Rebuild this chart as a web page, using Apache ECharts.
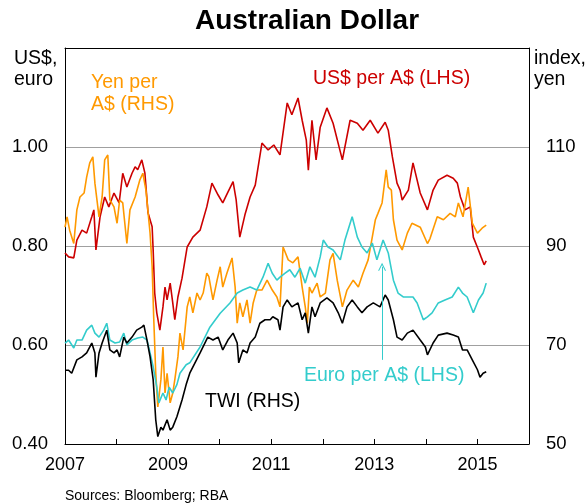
<!DOCTYPE html>
<html>
<head>
<meta charset="utf-8">
<script src="https://cdn.jsdelivr.net/npm/echarts@6/dist/echarts.min.js"></script>
<style>
html,body{margin:0;padding:0;background:#fff;}
#chart{width:585px;height:503px;}
</style>
</head>
<body>
<div id="chart"></div>
<script>
// ---- Data (decimal years) ----
const usdT = [2007.00,2007.07,2007.17,2007.23,2007.33,2007.42,2007.52,2007.56,2007.60,2007.68,2007.77,2007.85,2007.95,2008.05,2008.12,2008.20,2008.30,2008.36,2008.41,2008.49,2008.51,2008.55,2008.61,2008.69,2008.71,2008.74,2008.78,2008.84,2008.90,2008.94,2008.98,2009.04,2009.09,2009.13,2009.19,2009.27,2009.37,2009.48,2009.62,2009.75,2009.85,2009.97,2010.06,2010.16,2010.26,2010.32,2010.39,2010.49,2010.59,2010.69,2010.82,2010.94,2011.05,2011.17,2011.25,2011.31,2011.40,2011.52,2011.60,2011.68,2011.72,2011.79,2011.87,2011.95,2012.08,2012.20,2012.38,2012.53,2012.67,2012.78,2012.92,2013.07,2013.21,2013.27,2013.35,2013.44,2013.50,2013.54,2013.66,2013.75,2013.89,2014.03,2014.14,2014.24,2014.41,2014.53,2014.61,2014.67,2014.76,2014.86,2014.92,2015.02,2015.07,2015.13,2015.17];
const usdV = [0.786,0.778,0.776,0.812,0.832,0.826,0.859,0.873,0.792,0.859,0.899,0.879,0.907,0.887,0.947,0.919,0.947,0.960,0.954,0.974,0.978,0.947,0.867,0.839,0.792,0.705,0.665,0.630,0.677,0.717,0.691,0.725,0.685,0.651,0.697,0.735,0.798,0.818,0.832,0.879,0.927,0.903,0.887,0.909,0.930,0.893,0.818,0.863,0.899,0.923,1.008,0.994,1.004,0.984,1.044,1.089,1.065,1.099,1.054,1.014,0.953,1.054,0.974,1.040,1.079,1.048,0.974,1.054,1.048,1.034,1.054,1.028,1.050,1.034,0.980,0.927,0.913,0.893,0.913,0.968,0.907,0.873,0.913,0.933,0.943,0.937,0.927,0.899,0.873,0.879,0.818,0.792,0.778,0.762,0.770];

const jpyT = [2007.00,2007.04,2007.09,2007.17,2007.23,2007.29,2007.37,2007.42,2007.48,2007.54,2007.58,2007.66,2007.72,2007.77,2007.83,2007.87,2007.95,2008.01,2008.06,2008.12,2008.20,2008.26,2008.36,2008.45,2008.51,2008.57,2008.65,2008.69,2008.72,2008.76,2008.80,2008.86,2008.90,2008.94,2008.98,2009.04,2009.09,2009.13,2009.19,2009.23,2009.29,2009.37,2009.42,2009.48,2009.56,2009.62,2009.68,2009.75,2009.79,2009.87,2009.95,2010.01,2010.06,2010.14,2010.24,2010.30,2010.34,2010.39,2010.45,2010.53,2010.59,2010.65,2010.72,2010.82,2010.92,2011.02,2011.11,2011.17,2011.23,2011.33,2011.42,2011.52,2011.60,2011.66,2011.70,2011.74,2011.79,2011.89,2011.95,2012.05,2012.14,2012.20,2012.28,2012.38,2012.47,2012.59,2012.69,2012.78,2012.88,2012.96,2013.02,2013.07,2013.15,2013.23,2013.27,2013.33,2013.37,2013.44,2013.54,2013.64,2013.73,2013.89,2014.03,2014.08,2014.22,2014.34,2014.47,2014.57,2014.63,2014.72,2014.82,2014.90,2015.00,2015.09,2015.17];
const jpyV = [93.8,95.9,93.2,90.5,97.3,99.9,100.7,103.9,106.8,108.0,102.7,95.9,99.9,107.4,108.4,99.3,97.9,94.6,99.3,98.7,90.5,97.3,99.9,103.3,104.7,101.3,92.6,85.8,75.7,64.3,57.5,63.0,69.6,60.3,64.3,58.3,60.3,63.0,67.6,72.4,69.0,77.7,79.7,76.5,80.5,79.1,80.5,84.5,83.8,79.1,83.1,85.8,81.7,84.5,87.6,81.7,74.4,78.5,75.7,79.1,74.4,78.5,81.1,81.1,83.1,81.1,79.7,77.7,89.8,87.2,86.6,87.8,81.7,77.7,74.4,81.7,80.5,82.5,79.7,80.5,87.2,88.5,83.1,77.7,81.1,83.1,81.7,84.5,87.2,91.8,95.3,96.6,98.7,105.4,101.9,101.3,95.3,91.2,89.2,92.6,94.6,93.8,90.5,91.5,95.9,95.3,96.6,95.9,98.7,95.9,101.9,94.6,92.6,93.6,94.2];

const eurT = [2007.00,2007.07,2007.17,2007.23,2007.33,2007.42,2007.52,2007.58,2007.66,2007.75,2007.81,2007.87,2007.97,2008.06,2008.14,2008.20,2008.30,2008.41,2008.51,2008.59,2008.65,2008.71,2008.78,2008.82,2008.90,2008.96,2009.02,2009.09,2009.17,2009.23,2009.35,2009.42,2009.62,2009.81,2010.01,2010.20,2010.34,2010.45,2010.59,2010.72,2010.84,2010.94,2011.02,2011.11,2011.17,2011.27,2011.36,2011.46,2011.56,2011.66,2011.75,2011.85,2011.95,2012.01,2012.10,2012.20,2012.34,2012.43,2012.57,2012.67,2012.76,2012.86,2012.96,2013.05,2013.17,2013.27,2013.37,2013.46,2013.56,2013.66,2013.75,2013.83,2013.95,2014.03,2014.12,2014.24,2014.37,2014.51,2014.63,2014.71,2014.80,2014.92,2015.02,2015.11,2015.17];
const eurV = [0.604,0.610,0.594,0.610,0.610,0.630,0.640,0.624,0.616,0.630,0.644,0.610,0.604,0.606,0.624,0.600,0.610,0.614,0.616,0.610,0.584,0.556,0.515,0.483,0.503,0.489,0.515,0.503,0.520,0.543,0.560,0.564,0.596,0.636,0.664,0.685,0.705,0.711,0.717,0.711,0.737,0.765,0.745,0.731,0.737,0.745,0.752,0.737,0.755,0.725,0.758,0.737,0.778,0.812,0.798,0.792,0.772,0.812,0.859,0.818,0.798,0.786,0.806,0.772,0.812,0.786,0.731,0.705,0.697,0.697,0.697,0.685,0.651,0.657,0.665,0.685,0.691,0.697,0.717,0.705,0.697,0.665,0.691,0.705,0.725];

const twiT = [2007.00,2007.07,2007.13,2007.23,2007.33,2007.42,2007.52,2007.58,2007.60,2007.66,2007.72,2007.81,2007.87,2007.95,2008.01,2008.06,2008.14,2008.20,2008.30,2008.39,2008.49,2008.53,2008.59,2008.65,2008.71,2008.76,2008.80,2008.86,2008.90,2008.98,2009.04,2009.09,2009.17,2009.27,2009.35,2009.42,2009.62,2009.77,2009.87,2009.97,2010.06,2010.16,2010.26,2010.34,2010.37,2010.45,2010.53,2010.59,2010.69,2010.78,2010.88,2010.98,2011.03,2011.13,2011.17,2011.23,2011.31,2011.40,2011.52,2011.60,2011.66,2011.72,2011.79,2011.85,2011.95,2012.08,2012.20,2012.30,2012.38,2012.47,2012.57,2012.67,2012.76,2012.86,2012.98,2013.11,2013.21,2013.27,2013.37,2013.44,2013.54,2013.64,2013.75,2013.89,2013.99,2014.03,2014.14,2014.24,2014.41,2014.53,2014.63,2014.71,2014.80,2014.90,2015.00,2015.05,2015.11,2015.17];
const twiV = [64.9,64.9,64.3,67.0,67.6,68.4,70.4,68.4,63.5,68.4,70.4,73.0,69.0,68.4,69.0,67.6,71.6,70.4,71.6,73.0,73.6,74.0,71.0,67.6,63.0,54.9,51.5,53.4,52.8,54.9,52.8,53.4,55.5,58.9,62.0,64.3,68.4,71.6,71.0,71.6,69.0,71.0,72.4,70.4,66.4,69.0,68.4,70.4,71.6,74.4,75.1,75.1,75.7,75.1,73.0,77.7,79.1,77.7,78.5,75.1,76.5,72.4,77.7,75.7,78.5,79.5,78.5,76.5,74.4,77.7,79.1,77.7,76.5,77.7,78.5,77.7,80.1,79.1,75.1,71.6,71.0,72.4,73.0,71.0,69.6,68.0,70.4,72.0,72.4,72.0,71.6,69.0,69.0,67.0,65.0,63.5,64.3,64.6];

const xTicks = [2007, 2009, 2011, 2013, 2015];
const arrowT = 2013.15;           // Euro label pointer date
const arrowFrom = 0.57, arrowTo = 0.758;

function zip(t, v) {
  if (t.length !== v.length) console.error('length mismatch', t.length, v.length);
  return t.map((x, i) => [x, v[i]]);
}

const FONT = 'Arial, "Liberation Sans", sans-serif';
const RED = '#cc0000', ORANGE = '#ff9900', CYAN = '#33cccc', BLACK = '#000000';

const chart = echarts.init(document.getElementById('chart'), null, {renderer: 'canvas'});

const lineSeries = (name, data, color, yIdx, extra) => Object.assign({
  name, type: 'line', data, yAxisIndex: yIdx, showSymbol: false, symbol: 'none',
  lineStyle: {color, width: 1.6}, itemStyle: {color}, animation: false, z: 3
}, extra || {});

chart.setOption({
  animation: false,
  textStyle: {fontFamily: FONT},
  grid: {left: 65, top: 48, width: 464, height: 396, show: false},
  xAxis: [{
    type: 'value', min: 2007, max: 2016, interval: 1,
    axisLine: {show: true, lineStyle: {color: '#000', width: 1}},
    axisTick: {show: true, inside: true, length: 5, lineStyle: {color: '#000'}},
    splitLine: {show: false},
    axisLabel: {
      color: '#000', fontSize: 18, fontFamily: FONT, margin: 12,
      formatter: v => xTicks.indexOf(Math.round(v)) >= 0 ? String(Math.round(v)) : ''
    }
  }, {
    type: 'value', min: 2007, max: 2016, position: 'top',
    axisLine: {show: true, onZero: false, lineStyle: {color: '#000', width: 1}},
    axisTick: {show: false}, axisLabel: {show: false}, splitLine: {show: false}
  }],
  yAxis: [{
    type: 'value', min: 0.4, max: 1.2, interval: 0.2, position: 'left',
    axisLine: {show: true, onZero: false, lineStyle: {color: '#000', width: 1}},
    axisTick: {show: false},
    splitLine: {show: true, lineStyle: {color: '#a0a0a0', width: 1}},
    axisLabel: {
      color: '#000', fontSize: 18.5, fontFamily: FONT, margin: 17,
      formatter: v => v > 1.1 ? '' : v.toFixed(2)
    }
  }, {
    type: 'value', min: 50, max: 130, interval: 20, position: 'right',
    axisLine: {show: true, onZero: false, lineStyle: {color: '#000', width: 1}},
    axisTick: {show: false},
    splitLine: {show: false},
    axisLabel: {
      color: '#000', fontSize: 18.5, fontFamily: FONT, margin: 17,
      formatter: v => v > 120 ? '' : String(v)
    }
  }],
  series: [
    lineSeries('US$ per A$', zip(usdT, usdV), RED, 0),
    lineSeries('Yen per A$', zip(jpyT, jpyV), ORANGE, 1),
    lineSeries('Euro per A$', zip(eurT, eurV), CYAN, 0, {
      markLine: {
        silent: true, animation: false,
        symbol: ['none', 'path://M0,9L5,0L10,9L8.6,9L5,2.6L1.4,9Z'],
        symbolSize: [8, 8],
        label: {show: false},
        lineStyle: {color: CYAN, width: 1, type: 'solid'},
        data: [[{coord: [arrowT, arrowFrom]}, {coord: [arrowT, arrowTo]}]]
      }
    }),
    lineSeries('TWI', zip(twiT, twiV), BLACK, 1)
  ],
  graphic: [
    {type: 'text', x: 307, y: 7, style: {text: 'Australian Dollar', font: 'bold 28px ' + FONT, fill: '#000', textAlign: 'center'}},
    {type: 'text', x: 14, y: 48, style: {text: 'US$,\neuro', font: '19.5px ' + FONT, fill: '#000', lineHeight: 21}},
    {type: 'text', x: 534, y: 48, style: {text: 'index,\nyen', font: '19.5px ' + FONT, fill: '#000', lineHeight: 21}},
    {type: 'text', x: 91, y: 72, style: {text: 'Yen per\nA$ (RHS)', font: '19.5px ' + FONT, fill: ORANGE, lineHeight: 22}},
    {type: 'text', x: 313, y: 69, style: {text: 'US$ per A$ (LHS)', font: '19.5px ' + FONT, fill: RED}},
    {type: 'text', x: 304, y: 366, style: {text: 'Euro per A$ (LHS)', font: '19.5px ' + FONT, fill: CYAN}},
    {type: 'text', x: 205, y: 392, style: {text: 'TWI (RHS)', font: '19.5px ' + FONT, fill: '#000'}},
    {type: 'text', x: 65, y: 489, style: {text: 'Sources: Bloomberg; RBA', font: '14px ' + FONT, fill: '#000'}}
  ]
});
</script>
</body>
</html>
